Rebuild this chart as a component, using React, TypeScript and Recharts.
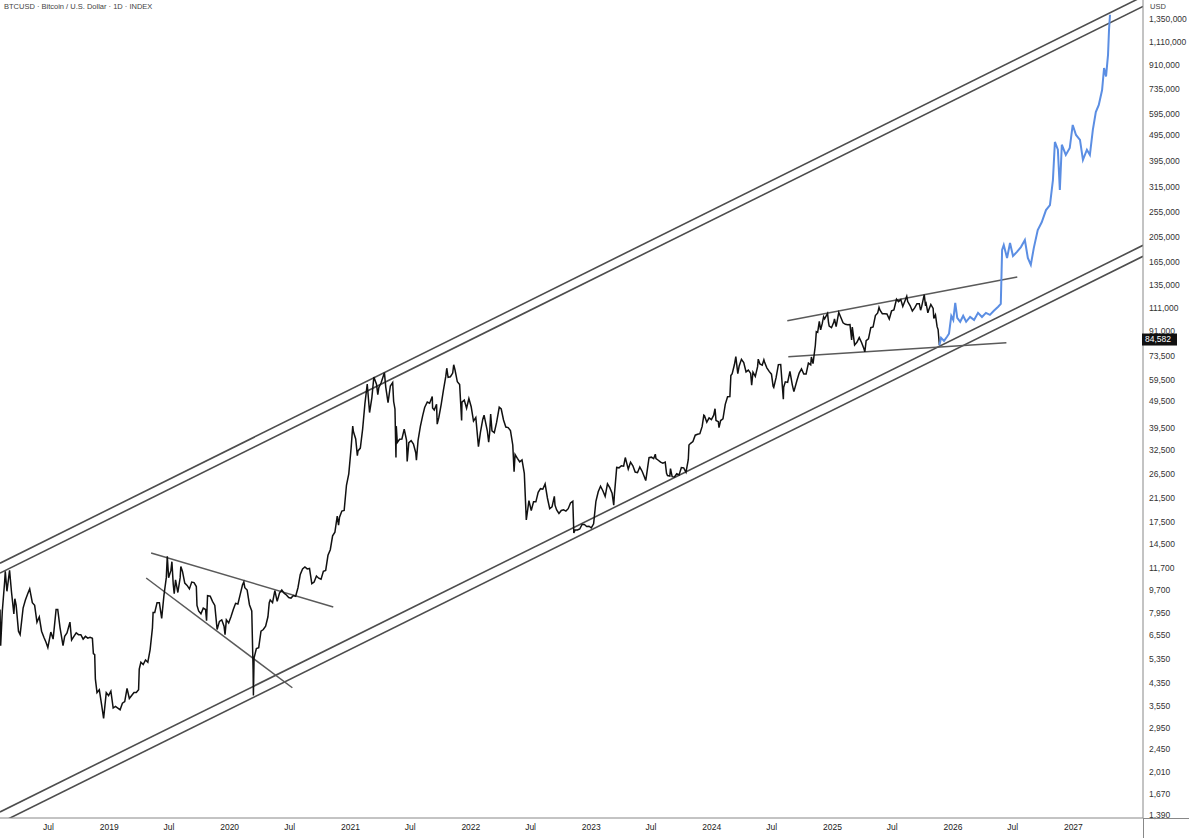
import React from "react";
import { ComposedChart, Line, XAxis, YAxis, ReferenceLine } from "recharts";

// BTCUSD closes, roughly weekly, with the big daily spikes kept
const btcHistory: [string, number][] = [
  ["2018-02-04", 8200], ["2018-02-06", 6000], ["2018-02-11", 8100], ["2018-02-18", 10400], ["2018-02-20", 11400],
  ["2018-02-25", 9600], ["2018-03-05", 11500], ["2018-03-11", 9500], ["2018-03-18", 7900], ["2018-03-21", 9000],
  ["2018-03-25", 8500], ["2018-04-01", 6800], ["2018-04-06", 6600], ["2018-04-15", 8300], ["2018-04-22", 8900],
  ["2018-04-29", 9400], ["2018-05-05", 9800], ["2018-05-13", 8700], ["2018-05-20", 8500], ["2018-05-27", 7350],
  ["2018-06-03", 7700], ["2018-06-10", 6800], ["2018-06-17", 6450], ["2018-06-24", 6150], ["2018-06-29", 5900],
  ["2018-07-08", 6750], ["2018-07-15", 6350], ["2018-07-24", 8200], ["2018-07-29", 8200], ["2018-08-05", 7000],
  ["2018-08-14", 6000], ["2018-08-19", 6500], ["2018-08-26", 6700], ["2018-09-04", 7350], ["2018-09-09", 6300],
  ["2018-09-16", 6500], ["2018-09-23", 6700], ["2018-09-30", 6600], ["2018-10-07", 6600], ["2018-10-14", 6350],
  ["2018-10-21", 6500], ["2018-10-28", 6400], ["2018-11-04", 6450], ["2018-11-11", 6400], ["2018-11-14", 5600],
  ["2018-11-18", 5550], ["2018-11-20", 4500], ["2018-11-25", 4000], ["2018-12-02", 4100], ["2018-12-09", 3600],
  ["2018-12-15", 3200], ["2018-12-23", 4000], ["2018-12-30", 3900], ["2019-01-06", 4050], ["2019-01-13", 3500],
  ["2019-01-20", 3550], ["2019-01-27", 3500], ["2019-02-03", 3450], ["2019-02-10", 3650], ["2019-02-17", 3700],
  ["2019-02-24", 4150], ["2019-03-03", 3800], ["2019-03-10", 3900], ["2019-03-17", 4000], ["2019-03-24", 4000],
  ["2019-03-31", 4100], ["2019-04-02", 4900], ["2019-04-07", 5200], ["2019-04-14", 5100], ["2019-04-21", 5300],
  ["2019-04-28", 5200], ["2019-05-05", 5800], ["2019-05-12", 7000], ["2019-05-14", 8000], ["2019-05-19", 8000],
  ["2019-05-26", 8700], ["2019-06-02", 8700], ["2019-06-09", 7600], ["2019-06-16", 9300], ["2019-06-23", 10800],
  ["2019-06-26", 13000], ["2019-06-30", 10800], ["2019-07-07", 11500], ["2019-07-10", 12400], ["2019-07-14", 10200],
  ["2019-07-17", 9400], ["2019-07-21", 10600], ["2019-07-28", 9500], ["2019-08-04", 10800], ["2019-08-06", 11900],
  ["2019-08-11", 11400], ["2019-08-18", 10300], ["2019-08-25", 10100], ["2019-09-01", 9800], ["2019-09-08", 10400],
  ["2019-09-15", 10350], ["2019-09-22", 10000], ["2019-09-24", 8500], ["2019-09-29", 8100], ["2019-10-06", 7900],
  ["2019-10-13", 8300], ["2019-10-20", 8200], ["2019-10-23", 7450], ["2019-10-26", 9250], ["2019-11-03", 9200],
  ["2019-11-10", 8800], ["2019-11-17", 8500], ["2019-11-24", 6900], ["2019-12-01", 7400], ["2019-12-08", 7500],
  ["2019-12-15", 7100], ["2019-12-18", 6600], ["2019-12-22", 7500], ["2019-12-29", 7300], ["2020-01-05", 7700],
  ["2020-01-12", 8200], ["2020-01-19", 8650], ["2020-01-26", 8600], ["2020-02-02", 9350], ["2020-02-09", 10150],
  ["2020-02-13", 10400], ["2020-02-16", 9900], ["2020-02-23", 9700], ["2020-03-01", 8550], ["2020-03-08", 8100],
  ["2020-03-12", 4900], ["2020-03-13", 3900], ["2020-03-15", 5400], ["2020-03-22", 5850], ["2020-03-29", 5900],
  ["2020-04-05", 6800], ["2020-04-12", 6900], ["2020-04-19", 7100], ["2020-04-26", 7700], ["2020-04-30", 8700],
  ["2020-05-03", 8900], ["2020-05-10", 8700], ["2020-05-17", 9650], ["2020-05-24", 8800], ["2020-05-31", 9450],
  ["2020-06-07", 9700], ["2020-06-14", 9450], ["2020-06-21", 9300], ["2020-06-28", 9100], ["2020-07-05", 9050],
  ["2020-07-12", 9250], ["2020-07-19", 9200], ["2020-07-26", 9900], ["2020-08-02", 11100], ["2020-08-09", 11650],
  ["2020-08-16", 11850], ["2020-08-23", 11650], ["2020-08-30", 11700], ["2020-09-06", 10250], ["2020-09-13", 10400],
  ["2020-09-20", 10950], ["2020-09-27", 10750], ["2020-10-04", 10650], ["2020-10-11", 11400], ["2020-10-18", 11500],
  ["2020-10-25", 13100], ["2020-11-01", 13750], ["2020-11-08", 15500], ["2020-11-15", 16000], ["2020-11-22", 18400],
  ["2020-11-26", 17000], ["2020-11-29", 18200], ["2020-12-06", 19200], ["2020-12-13", 19300], ["2020-12-20", 24000],
  ["2020-12-27", 26500], ["2021-01-03", 33000], ["2021-01-08", 40000], ["2021-01-10", 38200], ["2021-01-17", 35800],
  ["2021-01-22", 31000], ["2021-01-24", 32300], ["2021-01-31", 33100], ["2021-02-07", 39000], ["2021-02-14", 48700],
  ["2021-02-21", 57500], ["2021-02-28", 45000], ["2021-03-07", 51200], ["2021-03-13", 61200], ["2021-03-21", 57500],
  ["2021-03-25", 52500], ["2021-03-28", 55800], ["2021-04-04", 58200], ["2021-04-14", 63500], ["2021-04-18", 56200],
  ["2021-04-25", 49000], ["2021-05-02", 56600], ["2021-05-09", 58300], ["2021-05-12", 49500], ["2021-05-16", 46400],
  ["2021-05-19", 30500], ["2021-05-20", 40000], ["2021-05-23", 34700], ["2021-05-30", 35700], ["2021-06-06", 35800],
  ["2021-06-13", 39000], ["2021-06-20", 35500], ["2021-06-22", 29500], ["2021-06-27", 34700], ["2021-07-04", 35300],
  ["2021-07-11", 34250], ["2021-07-18", 31800], ["2021-07-20", 29800], ["2021-07-25", 35400], ["2021-08-01", 39900],
  ["2021-08-08", 43800], ["2021-08-14", 47000], ["2021-08-22", 49300], ["2021-08-29", 48800], ["2021-09-06", 51700],
  ["2021-09-07", 46800], ["2021-09-12", 46000], ["2021-09-19", 48300], ["2021-09-21", 40700], ["2021-09-26", 43200],
  ["2021-10-03", 48200], ["2021-10-10", 54700], ["2021-10-17", 61500], ["2021-10-20", 66000], ["2021-10-24", 61000],
  ["2021-10-31", 61300], ["2021-11-07", 63300], ["2021-11-10", 68000], ["2021-11-14", 65000], ["2021-11-21", 58700],
  ["2021-11-28", 57300], ["2021-12-04", 42000], ["2021-12-05", 49200], ["2021-12-12", 50100], ["2021-12-19", 46700],
  ["2021-12-26", 50800], ["2022-01-02", 47300], ["2022-01-09", 41800], ["2022-01-16", 43100], ["2022-01-24", 33500],
  ["2022-01-30", 37900], ["2022-02-06", 42400], ["2022-02-10", 44000], ["2022-02-13", 42200], ["2022-02-20", 38300],
  ["2022-02-24", 34800], ["2022-02-27", 37700], ["2022-03-02", 44400], ["2022-03-06", 38400], ["2022-03-13", 37800],
  ["2022-03-20", 41300], ["2022-03-28", 47100], ["2022-04-03", 46400], ["2022-04-10", 42200], ["2022-04-17", 39700],
  ["2022-04-24", 39500], ["2022-05-01", 38500], ["2022-05-08", 34000], ["2022-05-12", 27000], ["2022-05-15", 31300],
  ["2022-05-22", 30300], ["2022-05-29", 29400], ["2022-06-05", 29900], ["2022-06-12", 26600], ["2022-06-18", 17800],
  ["2022-06-26", 21000], ["2022-07-03", 19300], ["2022-07-10", 20800], ["2022-07-17", 20800], ["2022-07-24", 22600],
  ["2022-07-31", 23300], ["2022-08-07", 23200], ["2022-08-14", 24300], ["2022-08-21", 21500], ["2022-08-28", 19600],
  ["2022-09-04", 19900], ["2022-09-11", 21800], ["2022-09-13", 20200], ["2022-09-18", 19400], ["2022-09-25", 18800],
  ["2022-10-02", 19300], ["2022-10-09", 19400], ["2022-10-16", 19200], ["2022-10-23", 19600], ["2022-10-30", 20600],
  ["2022-11-06", 20900], ["2022-11-09", 15900], ["2022-11-13", 16300], ["2022-11-20", 16300], ["2022-11-27", 16450],
  ["2022-12-04", 17100], ["2022-12-11", 17100], ["2022-12-18", 16800], ["2022-12-25", 16850], ["2023-01-01", 16600],
  ["2023-01-08", 17200], ["2023-01-15", 20900], ["2023-01-22", 22700], ["2023-01-29", 23800], ["2023-02-05", 22900],
  ["2023-02-12", 21800], ["2023-02-19", 24300], ["2023-02-26", 23500], ["2023-03-05", 22400], ["2023-03-10", 20200],
  ["2023-03-12", 22100], ["2023-03-19", 28000], ["2023-03-26", 27900], ["2023-04-02", 28400], ["2023-04-09", 28300],
  ["2023-04-14", 30500], ["2023-04-23", 27600], ["2023-04-30", 29300], ["2023-05-07", 28400], ["2023-05-14", 26900],
  ["2023-05-21", 26750], ["2023-05-28", 28100], ["2023-06-04", 27100], ["2023-06-11", 25800], ["2023-06-15", 25000],
  ["2023-06-18", 26500], ["2023-06-25", 30500], ["2023-07-02", 30600], ["2023-07-09", 30200], ["2023-07-14", 31400],
  ["2023-07-16", 30250], ["2023-07-23", 29800], ["2023-07-30", 29300], ["2023-08-06", 29050], ["2023-08-13", 29300],
  ["2023-08-17", 26600], ["2023-08-20", 26100], ["2023-08-27", 26000], ["2023-08-29", 27700], ["2023-09-03", 25850],
  ["2023-09-10", 25800], ["2023-09-17", 26500], ["2023-09-24", 26250], ["2023-10-01", 27950], ["2023-10-08", 27900],
  ["2023-10-15", 26850], ["2023-10-22", 30000], ["2023-10-24", 34000], ["2023-10-29", 34500], ["2023-11-05", 35000],
  ["2023-11-12", 37000], ["2023-11-19", 37300], ["2023-11-26", 37500], ["2023-12-03", 39900], ["2023-12-08", 44000],
  ["2023-12-10", 43800], ["2023-12-17", 41400], ["2023-12-24", 43000], ["2023-12-31", 42300], ["2024-01-07", 44000],
  ["2024-01-11", 46500], ["2024-01-14", 42000], ["2024-01-21", 41600], ["2024-01-23", 39500], ["2024-01-28", 42000],
  ["2024-02-04", 42600], ["2024-02-11", 48300], ["2024-02-18", 51600], ["2024-02-25", 51700], ["2024-02-28", 62000],
  ["2024-03-03", 63000], ["2024-03-10", 68300], ["2024-03-14", 73000], ["2024-03-20", 63000], ["2024-03-24", 67200],
  ["2024-03-31", 71300], ["2024-04-07", 69300], ["2024-04-14", 63900], ["2024-04-21", 64900], ["2024-04-28", 63100],
  ["2024-05-01", 57000], ["2024-05-05", 63800], ["2024-05-12", 61500], ["2024-05-19", 66900], ["2024-05-21", 71400],
  ["2024-05-26", 68500], ["2024-06-02", 67800], ["2024-06-07", 71000], ["2024-06-09", 69600], ["2024-06-16", 66200],
  ["2024-06-23", 64200], ["2024-06-30", 62700], ["2024-07-05", 56500], ["2024-07-07", 55900], ["2024-07-14", 60800],
  ["2024-07-21", 68100], ["2024-07-28", 68200], ["2024-08-05", 50500], ["2024-08-06", 56000], ["2024-08-11", 58700],
  ["2024-08-18", 58400], ["2024-08-25", 64200], ["2024-09-01", 57300], ["2024-09-06", 53900], ["2024-09-15", 59200],
  ["2024-09-22", 63300], ["2024-09-29", 65600], ["2024-10-06", 62800], ["2024-10-13", 62800], ["2024-10-20", 69000],
  ["2024-10-27", 68000], ["2024-10-29", 72700], ["2024-11-03", 68700], ["2024-11-10", 80500], ["2024-11-13", 90500],
  ["2024-11-17", 90000], ["2024-11-22", 99000], ["2024-11-26", 91900], ["2024-12-01", 97200], ["2024-12-05", 103000],
  ["2024-12-08", 101200], ["2024-12-17", 106000], ["2024-12-20", 97800], ["2024-12-22", 95000], ["2024-12-29", 93700],
  ["2025-01-05", 98300], ["2025-01-07", 101000], ["2025-01-12", 94500], ["2025-01-20", 107000], ["2025-01-26", 102600],
  ["2025-02-02", 97700], ["2025-02-09", 96500], ["2025-02-16", 96100], ["2025-02-23", 96200], ["2025-02-28", 84300],
  ["2025-03-02", 94200], ["2025-03-09", 80700], ["2025-03-16", 82600], ["2025-03-23", 86000], ["2025-03-30", 82400],
  ["2025-04-06", 78200], ["2025-04-09", 76000], ["2025-04-13", 83700], ["2025-04-20", 85100], ["2025-04-27", 93700],
  ["2025-05-04", 94300], ["2025-05-11", 104100], ["2025-05-18", 106400], ["2025-05-22", 111600], ["2025-05-25", 109000],
  ["2025-06-01", 105700], ["2025-06-08", 105700], ["2025-06-15", 105500], ["2025-06-22", 101000], ["2025-06-29", 108300],
  ["2025-07-06", 109200], ["2025-07-14", 119800], ["2025-07-20", 117300], ["2025-07-27", 119400], ["2025-08-02", 112500],
  ["2025-08-10", 119300], ["2025-08-14", 123000], ["2025-08-17", 117400], ["2025-08-24", 113500], ["2025-08-31", 108200],
  ["2025-09-07", 111100], ["2025-09-14", 115300], ["2025-09-21", 115300], ["2025-09-25", 109000], ["2025-09-28", 112100],
  ["2025-10-06", 124700], ["2025-10-10", 113200], ["2025-10-12", 115100], ["2025-10-17", 106500], ["2025-10-19", 108600],
  ["2025-10-26", 114500], ["2025-11-02", 110600], ["2025-11-04", 101500], ["2025-11-09", 104700], ["2025-11-14", 94500],
  ["2025-11-17", 92200], ["2025-11-21", 80500],
];

// blue projected path (starts on the last real close)
const projection: [string, number][] = [
  ["2025-11-21", 80500], ["2025-11-26", 85800], ["2025-12-05", 83600], ["2025-12-14", 86600], ["2025-12-20", 88900],
  ["2025-12-27", 103800], ["2026-01-02", 100200], ["2026-01-08", 116100], ["2026-01-14", 101900], ["2026-01-23", 98600],
  ["2026-02-01", 103800], ["2026-02-10", 98600], ["2026-02-22", 102800], ["2026-03-06", 100200], ["2026-03-18", 106500],
  ["2026-03-30", 102800], ["2026-04-11", 106500], ["2026-04-23", 104700], ["2026-05-05", 108500], ["2026-05-18", 112300],
  ["2026-05-26", 115100], ["2026-05-30", 183300], ["2026-06-04", 191400], ["2026-06-14", 171200], ["2026-06-23", 194700],
  ["2026-07-02", 174100], ["2026-07-14", 180300], ["2026-07-26", 188000], ["2026-08-07", 199900], ["2026-08-16", 171200],
  ["2026-08-25", 161300], ["2026-09-03", 186400], ["2026-09-15", 217800], ["2026-09-27", 233000], ["2026-10-10", 258900],
  ["2026-10-22", 270200], ["2026-10-31", 335600], ["2026-11-06", 466500], ["2026-11-15", 436300], ["2026-11-21", 307900],
  ["2026-11-27", 455400], ["2026-12-09", 417200], ["2026-12-21", 442900], ["2026-12-30", 540400], ["2027-01-09", 495400],
  ["2027-01-21", 474700], ["2027-01-30", 399300], ["2027-02-11", 436300], ["2027-02-20", 417200], ["2027-03-01", 517500],
  ["2027-03-10", 604300], ["2027-03-19", 642300], ["2027-03-29", 730900], ["2027-04-04", 884000], ["2027-04-10", 822000],
  ["2027-04-16", 989700], ["2027-04-19", 1228000], ["2027-04-22", 1400000],
];

const priceTicks = [
  1390, 1670, 2010, 2450, 2950, 3550, 4350, 5350, 6550, 7950, 9700, 11700, 14500, 17500, 21500, 26500, 32500,
  39500, 49500, 59500, 73500, 91000, 111000, 135000, 165000, 205000, 255000, 315000, 395000, 495000, 595000,
  735000, 910000, 1110000, 1350000,
];
const lastPrice = 84582;

const timeTicks = [
  "2018-07-01", "2019-01-01", "2019-07-01", "2020-01-01", "2020-07-01", "2021-01-01", "2021-07-01", "2022-01-01",
  "2022-07-01", "2023-01-01", "2023-07-01", "2024-01-01", "2024-07-01", "2025-01-01", "2025-07-01", "2026-01-01",
  "2026-07-01", "2027-01-01",
];

// long-term channel: [start date, start price, end date, end price]
const channelLines: [string, number, string, number][] = [
  ["2018-02-04", 12240, "2027-07-31", 1641000],
  ["2018-02-04", 11230, "2027-07-31", 1506000],
  ["2018-02-04", 1426, "2027-07-31", 190900],
  ["2018-02-04", 1296, "2027-07-31", 173600],
];

// wedge / range drawings
const patternLines: [string, number, string, number][] = [
  ["2019-05-08", 13370, "2020-11-10", 8380],
  ["2019-04-23", 10770, "2020-07-09", 4170],
  ["2024-08-17", 99400, "2026-07-15", 145300],
  ["2024-08-20", 72900, "2026-06-12", 82200],
];

const timeDomain = ["2018-02-04", "2027-07-31"];
const priceDomain = [1353, 1591000];

const toT = (s: string) => Date.parse(s);

// one table for the chart, two value columns
const rows = new Map<number, { t: number; hist?: number; proj?: number }>();
btcHistory.forEach(([d, p]) => rows.set(toT(d), { t: toT(d), hist: p }));
projection.forEach(([d, p]) => {
  const t = toT(d);
  rows.set(t, { ...(rows.get(t) || { t }), proj: p });
});
const chartData = [...rows.values()].sort((a, b) => a.t - b.t);

const FONT = "'Liberation Sans', Arial, sans-serif";

function PriceTick(props: any) {
  const { x, y, payload } = props;
  if (payload.value === lastPrice) {
    return (
      <g>
        <rect x={x - 7} y={y - 6} width={35} height={12} fill="#111" />
        <text x={x - 4} y={y} dy="0.35em" fontSize={8.5} fill="#fff" fontFamily={FONT}>
          {payload.value.toLocaleString("en-US")}
        </text>
      </g>
    );
  }
  return (
    <text x={x} y={y} dy="0.35em" fontSize={8.5} fill="#333" fontFamily={FONT}>
      {payload.value.toLocaleString("en-US")}
    </text>
  );
}

function timeLabel(t: number) {
  const d = new Date(t);
  return d.getUTCMonth() === 0 ? String(d.getUTCFullYear()) : "Jul";
}

export default function App() {
  return (
    <div style={{ position: "absolute", left: 0, top: 0, width: 1189, height: 838, background: "#fff" }}>
      <ComposedChart width={1189} height={838} data={chartData} margin={{ top: 0, right: 0, bottom: 0, left: 0 }}>
        <XAxis
          dataKey="t"
          type="number"
          scale="time"
          domain={timeDomain.map(toT)}
          allowDataOverflow
          ticks={timeTicks.map(toT)}
          interval={0}
          tickFormatter={timeLabel}
          height={20}
          tickLine={false}
          tickSize={4}
          tickMargin={2}
          axisLine={{ stroke: "#888" }}
          tick={{ fontSize: 8.5, fill: "#222", fontFamily: FONT }}
        />
        <YAxis
          orientation="right"
          scale="log"
          domain={priceDomain}
          allowDataOverflow
          ticks={[...priceTicks, lastPrice]}
          interval={0}
          width={46}
          tickLine={false}
          tickSize={4}
          tickMargin={2}
          axisLine={{ stroke: "#888" }}
          tick={<PriceTick />}
        />
        {channelLines.map(([d1, p1, d2, p2], i) => (
          <ReferenceLine
            key={"c" + i}
            segment={[{ x: toT(d1), y: p1 }, { x: toT(d2), y: p2 }]}
            stroke="#4d4d4d"
            strokeWidth={1.6}
            ifOverflow="hidden"
          />
        ))}
        {patternLines.map(([d1, p1, d2, p2], i) => (
          <ReferenceLine
            key={"p" + i}
            segment={[{ x: toT(d1), y: p1 }, { x: toT(d2), y: p2 }]}
            stroke="#5a5a5a"
            strokeWidth={1.5}
            ifOverflow="hidden"
          />
        ))}
        <Line
          dataKey="hist"
          type="linear"
          stroke="#111"
          strokeWidth={1.5}
          dot={false}
          activeDot={false}
          connectNulls
          isAnimationActive={false}
        />
        <Line
          dataKey="proj"
          type="linear"
          stroke="#5b8ee3"
          strokeWidth={2}
          dot={false}
          activeDot={false}
          connectNulls
          isAnimationActive={false}
        />
      </ComposedChart>
      <div style={{ position: "absolute", left: 4, top: 2, fontSize: 7.5, color: "#444", fontFamily: FONT }}>
        BTCUSD · Bitcoin / U.S. Dollar · 1D · INDEX
      </div>
      <div style={{ position: "absolute", left: 1150, top: 2, fontSize: 7.5, color: "#444", fontFamily: FONT }}>
        USD
      </div>
      <div style={{ position: "absolute", left: 1143, top: 818, width: 46, height: 1, background: "#888" }} />
      <div style={{ position: "absolute", left: 1143, top: 818, width: 1, height: 20, background: "#888" }} />
    </div>
  );
}
